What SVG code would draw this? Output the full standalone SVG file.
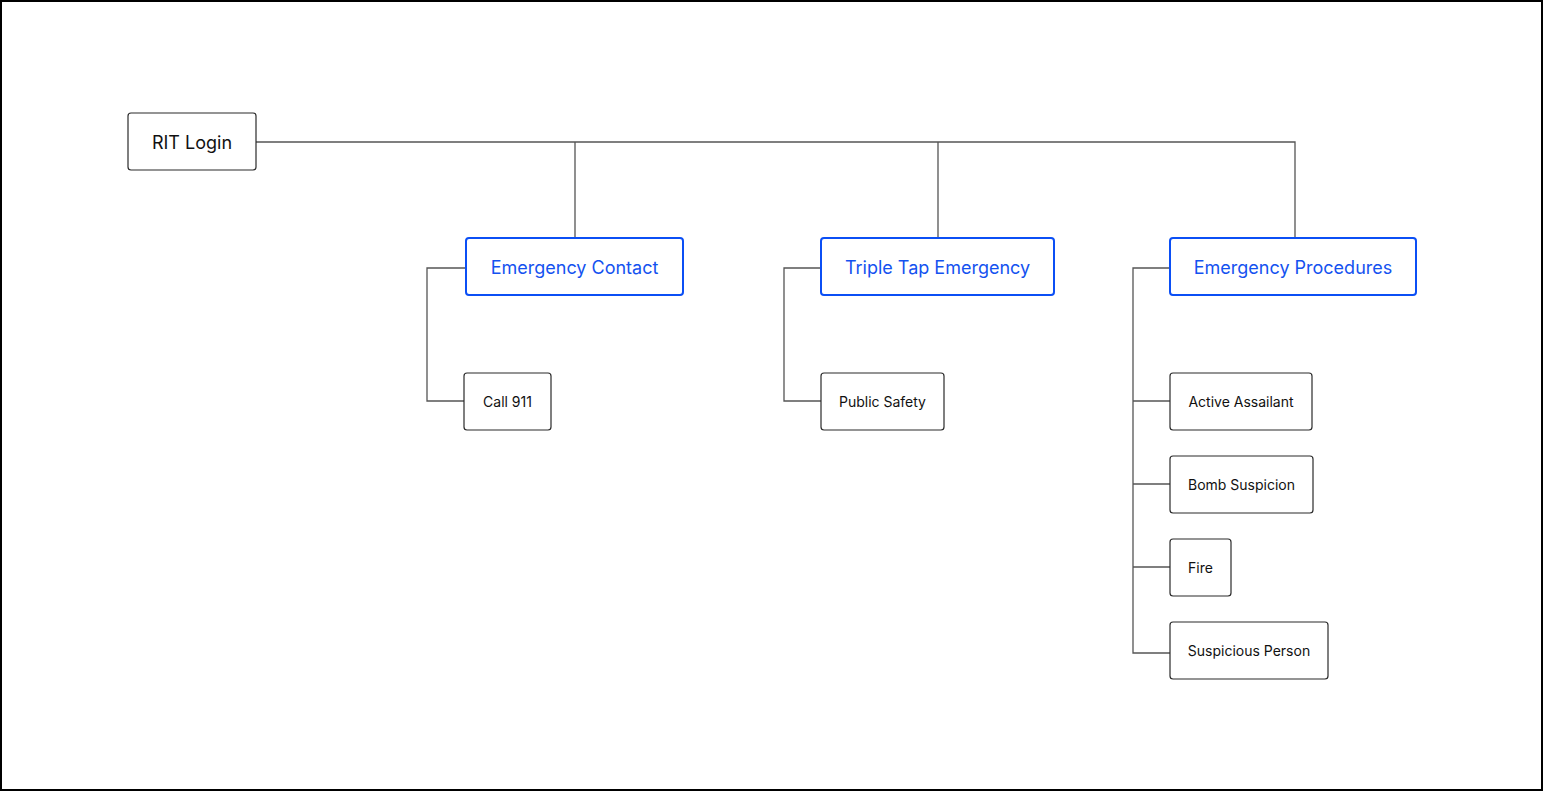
<svg xmlns="http://www.w3.org/2000/svg" width="1543" height="791" viewBox="0 0 1543 791">
<style>
.bg{fill:#fff;stroke:#000;stroke-width:2}
.n{fill:#fff;stroke:#2b2b2b;stroke-width:1.2}
.b{fill:#fff;stroke:#0b4ff5;stroke-width:2}
.t{font-family:Inter,"Liberation Sans",sans-serif;fill:#111;text-anchor:middle;dominant-baseline:central}
.tb{font-family:Inter,"Liberation Sans",sans-serif;fill:#1452f0;text-anchor:middle;dominant-baseline:central;font-size:18px}
.c{fill:none;stroke:#555;stroke-width:1.3}
</style>
<rect class="bg" x="1" y="1" width="1541" height="789"/>
<g id="connectors">
<path class="c" d="M256 142H1295V238M575 142V238M938 142V238"/>
<path class="c" d="M466 268H427V401H464"/>
<path class="c" d="M821 268H784V401H821"/>
<path class="c" d="M1170 268H1133V653H1170M1133 401H1170M1133 484H1170M1133 567H1170"/>
</g>
<g id="rit-login"><rect class="n" x="128" y="113" width="128" height="57" rx="3"/><text class="t" x="192" y="142" font-size="18">RIT Login</text></g>
<g id="emergency-contact"><rect class="b" x="466" y="238" width="217" height="57" rx="3"/><text class="tb" x="574.5" y="267">Emergency Contact</text></g>
<g id="triple-tap"><rect class="b" x="821" y="238" width="233" height="57" rx="3"/><text class="tb" x="937.5" y="267">Triple Tap Emergency</text></g>
<g id="emergency-procedures"><rect class="b" x="1170" y="238" width="246" height="57" rx="3"/><text class="tb" x="1293" y="267">Emergency Procedures</text></g>
<g id="call-911"><rect class="n" x="464" y="373" width="87" height="57" rx="3"/><text class="t" x="507.5" y="401" font-size="14">Call 911</text></g>
<g id="public-safety"><rect class="n" x="821" y="373" width="123" height="57" rx="3"/><text class="t" x="882.5" y="401" font-size="14">Public Safety</text></g>
<g id="active-assailant"><rect class="n" x="1170" y="373" width="142" height="57" rx="3"/><text class="t" x="1241" y="401" font-size="14">Active Assailant</text></g>
<g id="bomb-suspicion"><rect class="n" x="1170" y="456" width="143" height="57" rx="3"/><text class="t" x="1241.5" y="484" font-size="14">Bomb Suspicion</text></g>
<g id="fire"><rect class="n" x="1170" y="539" width="61" height="57" rx="3"/><text class="t" x="1200.5" y="567" font-size="14">Fire</text></g>
<g id="suspicious-person"><rect class="n" x="1170" y="622" width="158" height="57" rx="3"/><text class="t" x="1249" y="650" font-size="14">Suspicious Person</text></g>
</svg>
